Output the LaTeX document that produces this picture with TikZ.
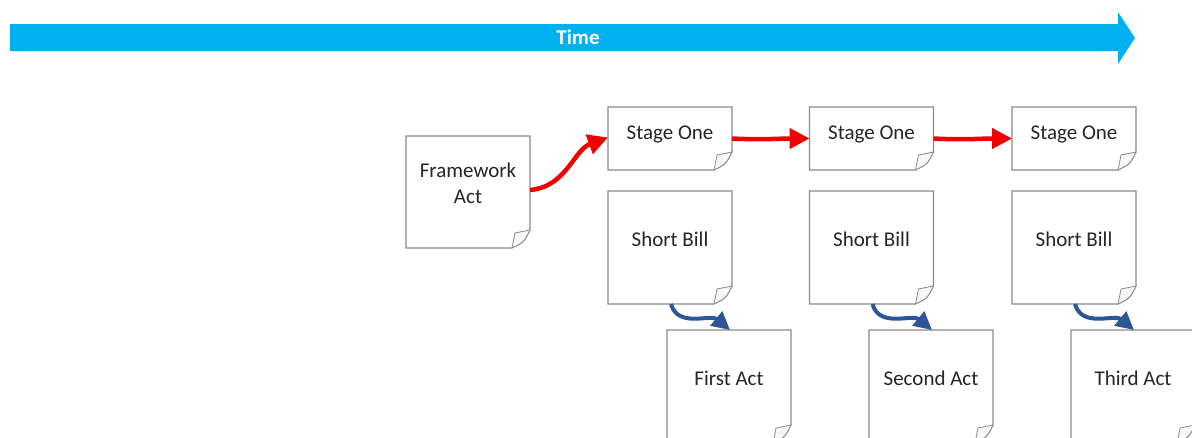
\documentclass[tikz,border=0pt]{standalone}
\usepackage{fontspec}
\setmainfont{Carlito}
\usetikzlibrary{arrows.meta}
\definecolor{timeblue}{HTML}{00B0F0}
\definecolor{flowred}{HTML}{F00000}
\definecolor{flowblue}{HTML}{2E5597}
\definecolor{edgegray}{HTML}{8A8A8A}
\definecolor{textdark}{HTML}{262626}
\tikzset{
  sheet/.style={draw=none, minimum width=124pt, inner sep=0pt, outer sep=0pt},
  pageline/.style={draw=edgegray, line width=1.1pt, fill=white},
  foldline/.style={draw=edgegray, line width=0.8pt, fill=gray!6},
  txt/.style={font=\fontsize{21}{26}\selectfont, text=textdark, align=center, inner sep=0pt},
  redflow/.style={draw=flowred, line width=4.5pt, -{Triangle[length=20pt,width=20pt]}},
  blueflow/.style={draw=flowblue, line width=4pt, -{Triangle[length=18pt,width=18pt]}},
}
\newcommand\pagebox[1]{%
  \draw[pageline] (#1.south west) -- (#1.north west) -- (#1.north east) -- ([yshift=18pt]#1.south east)
     .. controls ([xshift=-6pt,yshift=6pt]#1.south east) .. ([xshift=-18pt]#1.south east) -- cycle;
  \filldraw[foldline] ([yshift=18pt]#1.south east) -- ([xshift=-15pt,yshift=15pt]#1.south east)
     -- ([xshift=-18pt]#1.south east)
     .. controls ([xshift=-6pt,yshift=6pt]#1.south east) .. cycle;}
\begin{document}
\begin{tikzpicture}[x=1pt,y=1pt]
\useasboundingbox (0,0) rectangle (1192,-437);
\clip (0,0) rectangle (1192,-437);
% time arrow
\fill[timeblue] (10,-24) -- (1118,-24) -- (1118,-12) -- (1135,-38) -- (1118,-64) -- (1118,-51) -- (10,-51) -- cycle;
\node[font=\bfseries\fontsize{21}{25}\selectfont, text=white, inner sep=0pt] (time) at (578,-37.5) {Time};
% boxes
\node[sheet, minimum height=112pt] (fw) at (468,-192) {};
\node[sheet, minimum height=63pt] (s1) at (670,-138.5) {};
\node[sheet, minimum height=63pt] (s2) at (871.5,-138.5) {};
\node[sheet, minimum height=63pt] (s3) at (1074,-138.5) {};
\node[sheet, minimum height=113pt] (b1) at (670,-247.5) {};
\node[sheet, minimum height=113pt] (b2) at (871.5,-247.5) {};
\node[sheet, minimum height=113pt] (b3) at (1074,-247.5) {};
\node[sheet, minimum height=113pt] (a1) at (729,-386.5) {};
\node[sheet, minimum height=113pt] (a2) at (931,-386.5) {};
\node[sheet, minimum height=113pt] (a3) at (1133,-386.5) {};
\foreach \n in {fw,s1,s2,s3,b1,b2,b3,a1,a2,a3} {\pagebox{\n}}
% texts
\node[txt] (fwt) at ([yshift=9pt]fw.center) {Framework\\Act};
\node[txt] (s1t) at ([yshift=4pt]s1.center) {Stage One};
\node[txt] (s2t) at ([yshift=4pt]s2.center) {Stage One};
\node[txt] (s3t) at ([yshift=4pt]s3.center) {Stage One};
\node[txt] (b1t) at ([yshift=8pt]b1.center) {Short Bill};
\node[txt] (b2t) at ([yshift=8pt]b2.center) {Short Bill};
\node[txt] (b3t) at ([yshift=8pt]b3.center) {Short Bill};
\node[txt] (a1t) at ([yshift=8pt]a1.center) {First Act};
\node[txt] (a2t) at ([yshift=8pt]a2.center) {Second Act};
\node[txt] (a3t) at ([yshift=8pt]a3.center) {Third Act};
% red flow
\draw[redflow] ([yshift=2pt]fw.east) to[out=5,in=200] ([yshift=1pt]s1.west);
\draw[redflow] ([yshift=0pt]s1.east) to[out=-3,in=180] ([yshift=0pt]s2.west);
\draw[redflow] ([yshift=0pt]s2.east) to[out=-3,in=180] ([yshift=0pt]s3.west);
% blue flow
\draw[blueflow] ([xshift=1pt]b1.south) to[out=-75,in=140] ([xshift=1pt]a1.north);
\draw[blueflow] ([xshift=1pt]b2.south) to[out=-75,in=140] ([xshift=1pt]a2.north);
\draw[blueflow] ([xshift=1pt]b3.south) to[out=-75,in=140] ([xshift=1pt]a3.north);
\end{tikzpicture}
\end{document}
